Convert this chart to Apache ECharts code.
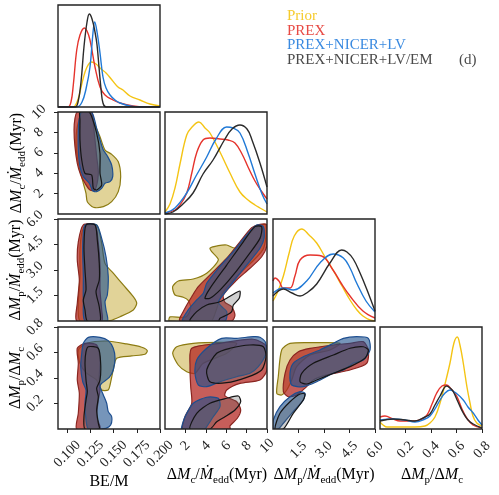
<!DOCTYPE html>
<html>
<head>
<meta charset="utf-8">
<script src="https://cdn.jsdelivr.net/npm/echarts@6/dist/echarts.min.js"></script>
<style>
html, body { margin: 0; padding: 0; background: #fff; }
#chart { width: 499px; height: 495px; }
</style>
</head>
<body>
<div id="chart"></div>
<script>
// series names (legend)
const names = ['Prior', 'PREX', 'PREX+NICER+LV', 'PREX+NICER+LV/EM']

// axis ranges and tick labels, one per variable
const ranges = [[0.09, 0.2], [0, 10], [0, 6], [0, 0.8]]
const ticks = [[0.1, 0.125, 0.15, 0.175, 0.2], [2, 4, 6, 8, 10], [1.5, 3, 4.5, 6], [0.2, 0.4, 0.6, 0.8]]
const tickDigits = [3, 0, 1, 1]

// 1D marginals: [value, relative density]
const bePrior = [[0.09, 0], [0.1062, 0], [0.1105, 5], [0.1137, 15], [0.117, 28], [0.1213, 40], [0.1263, 45], [0.131, 43], [0.1364, 38], [0.1418, 34], [0.1482, 27], [0.1547, 20], [0.1601, 17], [0.1676, 11], [0.1784, 7], [0.1892, 3], [0.2, 1]]
const bePrex = [[0.09, 0], [0.1008, 0], [0.104, 5], [0.1065, 22], [0.1102, 57], [0.1137, 72], [0.1184, 79], [0.1213, 76], [0.1245, 67], [0.1299, 40], [0.1353, 20], [0.1407, 12], [0.1493, 7], [0.1569, 4], [0.1709, 1], [0.1838, 0], [0.2, 0]]
const beBlue = [[0.09, 0], [0.1105, 0], [0.1159, 5], [0.1202, 18], [0.1245, 40], [0.1277, 74], [0.1296, 85], [0.1321, 75], [0.1353, 54], [0.1385, 30], [0.1418, 19], [0.1461, 12], [0.1515, 7], [0.1569, 4], [0.1676, 1], [0.1784, 0], [0.2, 0]]
const beBlack = [[0.09, 0], [0.1083, 0], [0.1116, 5], [0.1148, 25], [0.118, 60], [0.1213, 85], [0.1238, 93], [0.1267, 88], [0.1299, 75], [0.1321, 62], [0.1342, 40], [0.1364, 18], [0.1385, 4], [0.1418, 0], [0.2, 0]]

const mcPrior = [[0, 2], [0.49, 10], [0.98, 26], [1.47, 50], [2.13, 79], [2.65, 87], [3.33, 92], [3.92, 86], [4.41, 81], [5.39, 62], [6.37, 41], [7.35, 22], [8.14, 14], [8.82, 9], [9.31, 6], [10, 2]]
const mcPrex = [[0, 1], [0.98, 4], [1.47, 9], [2.13, 21], [2.65, 42], [3.1, 61], [3.73, 74], [4.41, 76], [5.39, 75], [6.18, 74], [6.86, 71], [7.55, 60], [8.14, 47], [8.82, 33], [9.51, 22], [10, 15]]
const mcBlue = [[0, 1], [0.98, 6], [2.13, 21], [3.04, 38], [4.09, 57], [5, 75], [6.04, 87], [6.67, 86], [7.35, 81], [8.14, 61], [8.82, 40], [9.51, 20], [10, 10]]
const mcBlack = [[0, 0], [0.78, 2], [1.76, 10], [2.75, 21], [3.73, 40], [4.71, 54], [5.88, 75], [6.57, 85], [7.35, 89], [8.04, 85], [8.53, 74], [9.31, 51], [10, 27]]

const mpPrior = [[0, 20], [0.3, 30], [0.61, 45], [0.95, 68], [1.25, 85], [1.69, 92], [2.12, 86], [2.57, 78], [3.06, 64], [3.53, 51], [4.06, 35], [4.53, 21], [4.94, 11], [5.29, 5], [5.71, 1], [6, 0]]
const mpPrex = [[0, 40], [0.12, 43], [0.35, 40], [0.61, 33], [1.0, 33], [1.29, 45], [1.59, 61], [2.18, 66], [2.86, 65], [3.53, 51], [4.0, 38], [4.53, 25], [5.29, 10], [6, 3]]
const mpBlue = [[0, 28], [0.61, 33], [1.19, 31], [1.98, 40], [2.76, 58], [3.55, 67], [4.14, 63], [4.53, 53], [4.92, 38], [5.47, 20], [6, 9]]
const mpBlack = [[0, 25], [0.61, 32], [1.12, 28], [1.59, 25], [2.06, 29], [2.57, 37], [3.35, 58], [4.04, 71], [4.35, 69], [4.72, 62], [5.12, 48], [5.51, 32], [6, 10]]

const rtPrior = [[0, 7], [0.024, 4], [0.055, 2], [0.157, 2], [0.274, 2], [0.353, 3], [0.392, 6], [0.431, 12], [0.471, 26], [0.51, 45], [0.549, 66], [0.58, 86], [0.606, 92], [0.627, 84], [0.653, 66], [0.682, 42], [0.706, 26], [0.729, 13], [0.759, 6], [0.8, 3]]
const rtPrex = [[0, 12], [0.039, 13], [0.102, 10], [0.157, 8], [0.274, 8], [0.329, 10], [0.369, 14], [0.408, 25], [0.445, 36], [0.486, 43], [0.523, 44], [0.557, 40], [0.601, 33], [0.643, 20], [0.68, 11], [0.729, 4], [0.8, 1]]
const rtBlue = [[0, 9], [0.102, 10], [0.196, 9], [0.274, 7], [0.353, 10], [0.392, 13], [0.431, 20], [0.471, 29], [0.51, 36], [0.549, 39], [0.596, 36], [0.653, 29], [0.69, 22], [0.731, 16], [0.768, 9], [0.8, 4]]
const rtBlack = [[0, 8], [0.102, 10], [0.196, 9], [0.274, 8], [0.353, 12], [0.392, 15], [0.431, 24], [0.471, 33], [0.523, 43], [0.549, 41], [0.572, 38], [0.612, 27], [0.653, 16], [0.69, 9], [0.731, 5], [0.8, 1]]

// 2D credible regions: outline points [x, y]
const beMcPrior = [[0.1156, 10], [0.1238, 10], [0.1299, 8.73], [0.1353, 7.58], [0.1407, 6.27], [0.1479, 5.85], [0.155, 5.13], [0.1576, 3.66], [0.155, 2.19], [0.1479, 1.21], [0.1389, 0.72], [0.1281, 0.66], [0.1216, 1.21], [0.1202, 2.03], [0.1173, 3.01], [0.1137, 4.31], [0.1108, 5.62], [0.1094, 6.93], [0.1102, 8.24], [0.113, 9.38]]
const beMcPrex = [[0.1108, 10], [0.1263, 10], [0.1281, 8.89], [0.1299, 7.25], [0.1317, 5.62], [0.1335, 3.99], [0.1299, 2.35], [0.1245, 2.35], [0.1191, 3.01], [0.1145, 3.82], [0.1108, 4.97], [0.1083, 6.6], [0.1073, 8.24], [0.1083, 9.38]]
const beMcBlue = [[0.1156, 10], [0.1263, 10], [0.1317, 8.4], [0.1353, 7.25], [0.1389, 6.27], [0.1432, 5.69], [0.1479, 4.8], [0.149, 3.66], [0.1461, 3.17], [0.1407, 3.01], [0.1371, 2.52], [0.1317, 2.19], [0.1274, 2.28], [0.1238, 3.01], [0.1173, 3.66], [0.1137, 4.64], [0.1119, 6.27], [0.1119, 8.24], [0.113, 9.38]]
const beMcBlack = [[0.1137, 10], [0.1238, 10], [0.1317, 7.91], [0.1353, 5.95], [0.1353, 3.99], [0.1371, 2.84], [0.1317, 2.35], [0.1281, 2.52], [0.1263, 3.82], [0.1191, 3.99], [0.1156, 5.29], [0.1137, 7.25], [0.1137, 9.22]]

const beMpPrior = [[0.1191, 5.55], [0.1317, 5.65], [0.1371, 4.57], [0.1407, 3.39], [0.1496, 2.81], [0.1604, 2.12], [0.1712, 1.43], [0.1749, 1.04], [0.1712, 0.65], [0.1569, 0.25], [0.1461, 0.02], [0.1353, 0], [0.1137, 0], [0.1119, 1.04], [0.1137, 2.61], [0.1137, 4.18], [0.1156, 5.16]]
const beMpPrex = [[0.1173, 5.65], [0.1299, 5.65], [0.1335, 4.57], [0.1353, 3.19], [0.1353, 1.82], [0.1371, 0.65], [0.1371, 0], [0.1102, 0], [0.1108, 1.04], [0.113, 2.41], [0.1108, 3.59], [0.1119, 4.66]]
const beMpBlue = [[0.1191, 5.65], [0.1317, 5.65], [0.1371, 4.86], [0.1418, 3.78], [0.1442, 2.61], [0.1432, 1.53], [0.1407, 1.14], [0.1418, 0.65], [0.1432, 0], [0.1191, 0], [0.1173, 1.04], [0.1173, 2.61], [0.1166, 4.18], [0.1173, 5.16]]
const beMpBlack = [[0.1202, 5.65], [0.1299, 5.65], [0.1324, 4.76], [0.1345, 3.39], [0.1345, 2.41], [0.131, 1.72], [0.1345, 0.84], [0.1353, 0], [0.1216, 0], [0.1191, 0.65], [0.1173, 1.24], [0.1202, 1.82], [0.1191, 3.0], [0.118, 4.37]]

const beRtPrior = [[0.1119, 0.62], [0.121, 0.672], [0.1425, 0.69], [0.1641, 0.667], [0.1803, 0.641], [0.1863, 0.614], [0.1838, 0.586], [0.1695, 0.573], [0.1533, 0.555], [0.1496, 0.463], [0.1461, 0.345], [0.1442, 0.306], [0.1371, 0.306], [0.1317, 0.384], [0.121, 0.437], [0.1137, 0.515]]
const beRtPrex = [[0.1108, 0.633], [0.1191, 0.672], [0.1317, 0.659], [0.1353, 0.541], [0.1345, 0.41], [0.1353, 0.306], [0.1335, 0.227], [0.1317, 0.096], [0.1353, 0], [0.1102, 0], [0.1119, 0.123], [0.113, 0.28], [0.1108, 0.384], [0.1119, 0.515]]
const beRtBlue = [[0.1173, 0.672], [0.1227, 0.719], [0.1353, 0.719], [0.1442, 0.693], [0.1496, 0.633], [0.1515, 0.555], [0.1496, 0.463], [0.1453, 0.405], [0.1371, 0.358], [0.1353, 0.332], [0.1389, 0.267], [0.1425, 0.202], [0.1442, 0.136], [0.1479, 0.096], [0.1468, 0.031], [0.1418, 0.005], [0.1353, 0], [0.1227, 0], [0.1202, 0.071], [0.1191, 0.202], [0.1202, 0.306], [0.1166, 0.371], [0.1145, 0.489], [0.1156, 0.594]]
const beRtBlack = [[0.1227, 0.645], [0.1335, 0.633], [0.136, 0.515], [0.1353, 0.384], [0.1317, 0.319], [0.1335, 0.253], [0.1317, 0.149], [0.1335, 0.045], [0.1345, 0], [0.1191, 0], [0.118, 0.096], [0.1202, 0.227], [0.1216, 0.293], [0.1202, 0.384], [0.1191, 0.515], [0.1202, 0.606]]

const mcMpPrior = [[0.42, 0], [0.49, 0.24], [2.06, 0.24], [2.52, 0.75], [2.3, 1.2], [1.79, 1.4], [0.98, 1.53], [0.75, 2.02], [1.3, 2.35], [2.77, 2.47], [4.09, 2.81], [5.23, 3.59], [4.58, 4.08], [4.41, 4.28], [5.23, 4.43], [6.05, 4.47], [6.9, 4.3], [8.0, 5.0], [9.2, 5.6], [9.9, 5.65], [9.6, 4.2], [7.0, 2.6], [5.6, 1.6], [5.0, 0.6], [4.5, 0]]
const mcMpPrex = [[1.47, 0], [1.96, 0.75], [2.62, 1.43], [3.26, 2.02], [4.41, 2.71], [6.05, 3.69], [7.35, 4.66], [8.5, 5.49], [9.31, 5.69], [10, 5.65], [10, 4.47], [9.48, 3.78], [8.33, 3.1], [7.03, 2.41], [5.72, 1.53], [5.88, 1.1], [6.54, 0.84], [6.86, 0.35], [6.54, 0]]
const mcMpBlue = [[1.74, 0], [2.28, 0.65], [3.11, 1.24], [3.75, 1.63], [4.09, 2.22], [5.23, 3.1], [6.7, 4.08], [8.01, 5.06], [8.99, 5.65], [9.64, 5.55], [9.71, 4.86], [9.31, 4.28], [8.01, 3.29], [6.7, 2.31], [5.56, 1.43], [5.23, 1.1], [5.56, 0.84], [6.05, 0.55], [5.88, 0]]
const mcMpBlackA = [[3.92, 1.34], [4.41, 1.92], [6.05, 3.29], [7.68, 4.66], [8.82, 5.55], [9.48, 5.55], [9.31, 4.86], [8.17, 3.88], [6.7, 2.71], [5.39, 1.82], [4.41, 1.34]]
const mcMpBlackB = [[2.45, 0], [3.11, 0.55], [4.09, 0.94], [5.23, 1.1], [6.05, 1.34], [6.86, 1.63], [7.35, 1.76], [7.28, 1.34], [6.7, 0.94], [6.54, 0.55], [6.05, 0.35], [5.39, 0.16], [5.23, 0]]

const mcRtPrior = [[0.75, 0.594], [1.15, 0.645], [2.77, 0.672], [5.39, 0.68], [7.03, 0.672], [6.05, 0.594], [3.75, 0.515], [2.94, 0.437], [2.13, 0.449], [1.3, 0.502]]
const mcRtPrex = [[2.62, 0.633], [5.39, 0.672], [8.66, 0.704], [10, 0.645], [10, 0.463], [9.31, 0.384], [7.35, 0.358], [6.05, 0.306], [5.88, 0.259], [7.03, 0.214], [7.42, 0.149], [7.09, 0.084], [6.37, 0.024], [6.37, 0], [1.79, 0], [1.96, 0.096], [2.62, 0.202], [2.52, 0.332], [2.45, 0.489]]
const mcRtBlueA = [[3.11, 0.541], [4.09, 0.633], [5.56, 0.711], [7.03, 0.711], [8.66, 0.724], [9.31, 0.72], [9.85, 0.68], [9.9, 0.59], [9.15, 0.489], [8.33, 0.437], [7.03, 0.41], [5.39, 0.371], [4.09, 0.332], [3.27, 0.345], [2.94, 0.437]]
const mcRtBlueB = [[1.64, 0], [1.64, 0.018], [1.96, 0.096], [2.77, 0.202], [4.09, 0.249], [5.23, 0.241], [5.39, 0.175], [4.73, 0.096], [4.09, 0.018], [3.9, 0]]
const mcRtBlackA = [[4.09, 0.463], [4.41, 0.371], [6.05, 0.363], [8.01, 0.405], [9.48, 0.463], [9.9, 0.567], [9.64, 0.645], [8.33, 0.659], [6.37, 0.633], [5.07, 0.594]]
const mcRtBlackB = [[2.45, 0], [3.11, 0.123], [4.41, 0.202], [6.05, 0.241], [7.19, 0.259], [7.42, 0.214], [6.86, 0.149], [5.88, 0.096], [5.07, 0.057], [4.41, 0]]

const mpRtPrior = [[0.22, 0.28], [0.31, 0.41], [0.51, 0.62], [1.0, 0.672], [2.57, 0.677], [3.94, 0.672], [3.35, 0.62], [2.18, 0.58], [1.39, 0.489], [1.1, 0.384], [0.81, 0.306], [0.51, 0.267]]
const mpRtPrex = [[0.61, 0.293], [0.71, 0.437], [1.0, 0.541], [1.49, 0.606], [2.18, 0.633], [3.55, 0.659], [4.53, 0.672], [5.31, 0.685], [5.61, 0.62], [5.51, 0.515], [4.53, 0.463], [3.16, 0.424], [2.37, 0.384], [1.98, 0.332], [1.39, 0.267], [0.9, 0.253]]
const mpRtBlueA = [[1.0, 0.437], [1.19, 0.515], [1.78, 0.567], [2.76, 0.62], [3.55, 0.672], [4.14, 0.711], [4.92, 0.724], [5.61, 0.711], [5.71, 0.62], [5.31, 0.541], [4.72, 0.515], [4.14, 0.463], [3.55, 0.437], [2.57, 0.371], [1.78, 0.332], [1.1, 0.345]]
const mpRtBlueB = [[0, 0], [0.02, 0.071], [0.41, 0.175], [1.0, 0.253], [1.59, 0.293], [1.88, 0.28], [1.78, 0.227], [1.19, 0.136], [0.61, 0.045], [0.31, 0]]
const mpRtBlackA = [[1.59, 0.371], [1.69, 0.437], [2.37, 0.515], [3.55, 0.58], [4.53, 0.633], [5.31, 0.645], [5.61, 0.62], [5.41, 0.555], [4.53, 0.489], [3.55, 0.437], [2.57, 0.384], [1.98, 0.353]]
const mpRtBlackB = [[0.12, 0], [0.41, 0.123], [1.0, 0.214], [1.59, 0.275], [1.88, 0.275], [1.78, 0.227], [1.19, 0.123], [0.61, 0]]

// ---- styles ----
const FONT = '"Liberation Serif", "DejaVu Serif", serif'
const lineColors = ['#f4c414', '#e5332c', '#2079d6', '#2b2b2b']
const textColors = ['#f6cb2c', '#e84a44', '#3a8ae0', '#4a4a4a']
const fillColors = ['rgba(190,160,30,0.46)', 'rgba(180,40,35,0.75)', 'rgba(26,79,140,0.6)', 'rgba(100,100,100,0.3)']
const edgeColors = ['#8c7b12', '#8a2520', '#1d4e8f', '#151515']

const colLeft = [58, 165, 273, 380]
const rowTop = [5, 112, 219, 327]
const S = 102
const labelMargin = [25, 17, 21, 21]

const diagData = [
    [bePrior, bePrex, beBlue, beBlack],
    [mcPrior, mcPrex, mcBlue, mcBlack],
    [mpPrior, mpPrex, mpBlue, mpBlack],
    [rtPrior, rtPrex, rtBlue, rtBlack]
]
const pairData = {
    '1,0': [[beMcPrior], [beMcPrex], [beMcBlue], [beMcBlack]],
    '2,0': [[beMpPrior], [beMpPrex], [beMpBlue], [beMpBlack]],
    '3,0': [[beRtPrior], [beRtPrex], [beRtBlue], [beRtBlack]],
    '2,1': [[mcMpPrior], [mcMpPrex], [mcMpBlue], [mcMpBlackA, mcMpBlackB]],
    '3,1': [[mcRtPrior], [mcRtPrex], [mcRtBlueA, mcRtBlueB], [mcRtBlackA, mcRtBlackB]],
    '3,2': [[mpRtPrior], [mpRtPrex], [mpRtBlueA, mpRtBlueB], [mpRtBlackA, mpRtBlackB]]
}

const cells = []
for (let r = 0; r < 4; r++) for (let c = 0; c <= r; c++) cells.push({ r, c })

const axisLabelStyle = (v, margin) => ({
    customValues: ticks[v],
    rotate: 45,
    align: 'center',
    verticalAlign: 'middle',
    margin: margin,
    fontFamily: FONT,
    fontSize: 14,
    color: '#222',
    formatter: val => Number(val).toFixed(tickDigits[v])
})

const grids = [], xAxes = [], yAxes = [], series = [], graphics = []

cells.forEach(({ r, c }, k) => {
    grids.push({ left: colLeft[c], top: rowTop[r], width: S, height: S })
    const bottom = r === 3
    xAxes.push({
        gridIndex: k, type: 'value', min: ranges[c][0], max: ranges[c][1],
        axisLine: { show: false }, splitLine: { show: false },
        axisTick: { show: bottom, customValues: ticks[c], length: 4, lineStyle: { color: '#222', width: 1 } },
        axisLabel: bottom ? axisLabelStyle(c, labelMargin[c]) : { show: false }
    })
    if (r === c) {
        yAxes.push({ gridIndex: k, type: 'value', min: 0, max: 102, show: false })
        diagData[r].forEach((d, s) => {
            series.push({
                type: 'line', xAxisIndex: k, yAxisIndex: k, data: d,
                smooth: 0.4, showSymbol: false, silent: true,
                lineStyle: { color: lineColors[s], width: 1.4 }
            })
        })
    } else {
        const left = c === 0
        yAxes.push({
            gridIndex: k, type: 'value', min: ranges[r][0], max: ranges[r][1],
            axisLine: { show: false }, splitLine: { show: false },
            axisTick: { show: left, customValues: ticks[r], length: 4, lineStyle: { color: '#222', width: 1 } },
            axisLabel: left ? axisLabelStyle(r, r === 1 ? 19 : 23) : { show: false }
        })
        pairData[r + ',' + c].forEach((polys, s) => {
            polys.forEach(pts => {
                series.push({
                    type: 'custom', xAxisIndex: k, yAxisIndex: k, data: pts,
                    clip: true, silent: true,
                    renderItem: (params, api) => {
                        if (params.dataIndex !== 0) return null
                        return {
                            type: 'polygon',
                            shape: { points: pts.map(p => api.coord(p)), smooth: 0.25 },
                            style: { fill: fillColors[s], stroke: edgeColors[s], lineWidth: 1.2 }
                        }
                    }
                })
            })
        })
    }
    graphics.push({
        type: 'rect', z: 100, silent: true,
        shape: { x: colLeft[c], y: rowTop[r], width: S, height: S },
        style: { fill: 'none', stroke: '#222', lineWidth: 1.4 }
    })
})

// axis titles
const rich = {
    n: { fontFamily: FONT, fontSize: 16, lineHeight: 22, color: '#222' },
    i: { fontFamily: FONT, fontSize: 16, lineHeight: 22, fontStyle: 'italic', color: '#222' },
    s: { fontFamily: FONT, fontSize: 11, lineHeight: 11, verticalAlign: 'bottom', color: '#222' }
}
const mcTitle = '{n|Δ}{i|M}{s|c}{n|/}{i|Ṁ}{s|edd}{n|(Myr)}'
const mpTitle = '{n|Δ}{i|M}{s|p}{n|/}{i|Ṁ}{s|edd}{n|(Myr)}'
const rtTitle = '{n|Δ}{i|M}{s|p}{n|/Δ}{i|M}{s|c}'
const titleText = (text, x, y, rot) => ({
    type: 'text', x, y, rotation: rot || 0, z: 100, silent: true,
    style: { text, rich, align: 'center', verticalAlign: 'middle' }
})
graphics.push(titleText('{n|BE/M}', 109, 482))
graphics.push(titleText(mcTitle, 217, 475))
graphics.push(titleText(mpTitle, 324, 475))
graphics.push(titleText(rtTitle, 432, 475))
graphics.push(titleText(mcTitle, 17, 163, Math.PI / 2))
graphics.push(titleText(mpTitle, 16, 270, Math.PI / 2))
graphics.push(titleText(rtTitle, 16, 378, Math.PI / 2))

// legend
const legendY = [16, 31, 45.5, 60]
names.forEach((name, s) => {
    graphics.push({
        type: 'text', x: 287, y: legendY[s], z: 100, silent: true,
        style: { text: name, fill: textColors[s], fontFamily: FONT, fontSize: 15, align: 'left', verticalAlign: 'middle' }
    })
})
graphics.push({
    type: 'text', x: 459, y: 60, z: 100, silent: true,
    style: { text: '(d)', fill: '#4a4a4a', fontFamily: FONT, fontSize: 15, align: 'left', verticalAlign: 'middle' }
})

const chart = echarts.init(document.getElementById('chart'))
chart.setOption({
    animation: false,
    backgroundColor: '#fff',
    grid: grids,
    xAxis: xAxes,
    yAxis: yAxes,
    series: series,
    graphic: graphics
})

window.addEventListener('resize', () => {
    chart && chart.resize()
})
</script>
</body>
</html>
